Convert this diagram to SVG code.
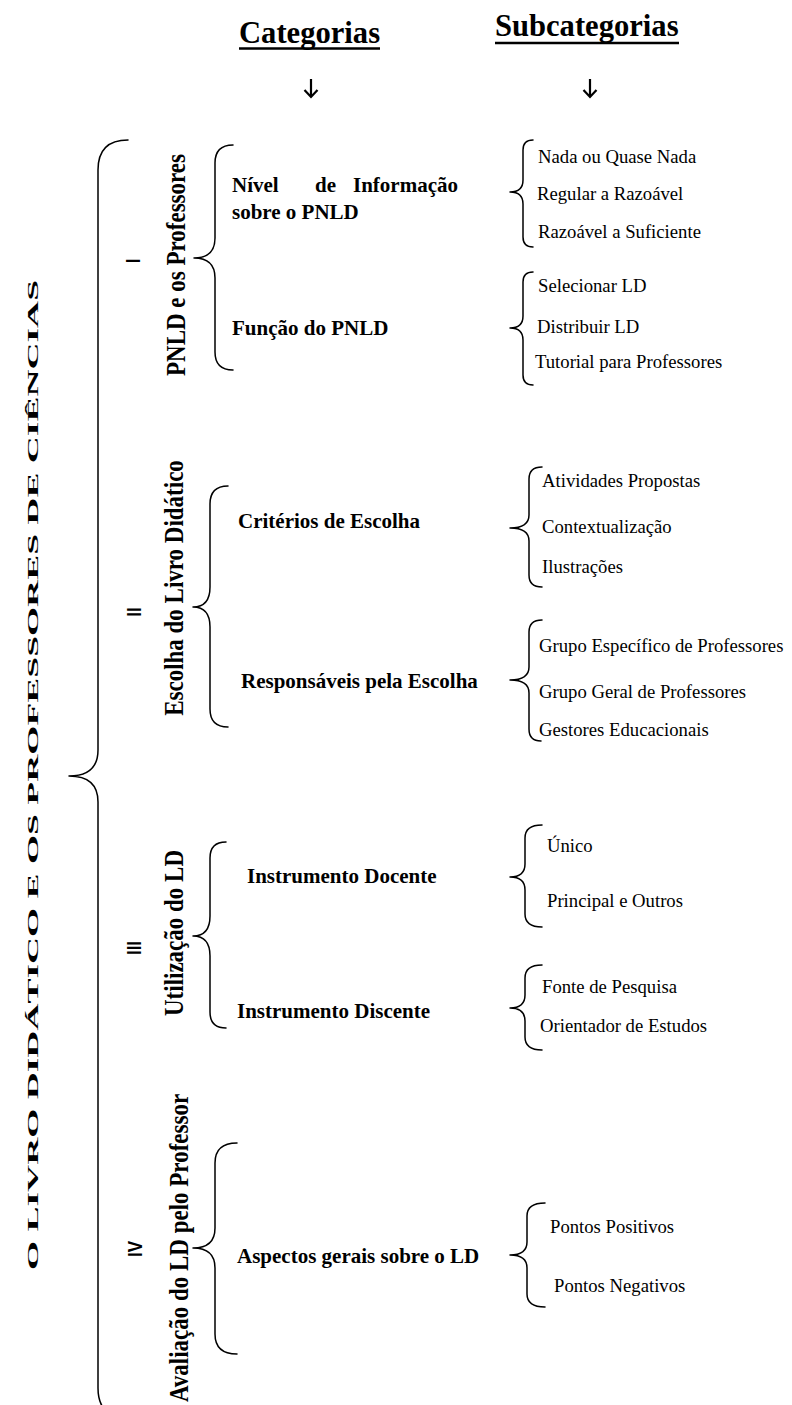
<svg xmlns="http://www.w3.org/2000/svg" width="792" height="1405" viewBox="0 0 792 1405">
<style>
.bg{fill:#fff}
.hd{font-family:"Liberation Serif","Times New Roman",serif;font-weight:bold;font-size:30.6px;fill:#000}
.cat{font-family:"Liberation Serif","Times New Roman",serif;font-weight:bold;font-size:21px;fill:#000}
.sub{font-family:"Liberation Serif","Times New Roman",serif;font-size:18.7px;fill:#000}
.vl{font-family:"Liberation Serif","Times New Roman",serif;font-weight:bold;font-size:23px;fill:#000;text-anchor:middle}
.rn{font-family:"Liberation Sans",Arial,sans-serif;font-weight:bold;font-size:17px;fill:#000;text-anchor:middle}
.br{fill:none;stroke:#000;stroke-width:1.5;stroke-linecap:round;stroke-linejoin:round}
.ar{fill:none;stroke:#000;stroke-width:2.2}
.ul{stroke:#000;stroke-width:2.5}
</style>
<rect class="bg" x="0" y="0" width="792" height="1405"/>

<g id="headers">
  <text class="hd" x="239" y="43">Categorias</text>
  <line class="ul" x1="239" y1="48.5" x2="380" y2="48.5"/>
  <text class="hd" x="495" y="36">Subcategorias</text>
  <line class="ul" x1="495" y1="43" x2="679" y2="43"/>
</g>

<g id="connectors">
  <path class="ar" d="M311,79 L311,97 M304.5,90 L311,97 L317.5,90"/>
  <path class="ar" d="M590,79 L590,97 M583.5,90 L590,97 L596.5,90"/>
  <!-- main brace -->
  <path class="br" d="M128,140 Q98,140 98,170 L98,750 Q98,776 69,776 Q98,776 98,802 L98,1388 Q98,1418 128,1418"/>
  <!-- category braces -->
  <path class="br" d="M233,145 Q215,145 215,163 L215,238 Q215,258 194,258 Q215,258 215,278 L215,352 Q215,370 233,370"/>
  <path class="br" d="M228,486 Q210,486 210,504 L210,587 Q210,607 193,607 Q210,607 210,627 L210,709 Q210,727 228,727"/>
  <path class="br" d="M226,842 Q210,842 210,858 L210,916 Q210,936 193,936 Q210,936 210,956 L210,1012 Q210,1028 226,1028"/>
  <path class="br" d="M237,1143 Q215,1143 215,1163 L215,1228 Q215,1248 193,1248 Q215,1248 215,1268 L215,1334 Q215,1354 237,1354"/>
  <!-- subcategory braces -->
  <path class="br" d="M533,140 Q523,140 523,150 L523,180 Q523,192 510,192 Q523,192 523,204 L523,237 Q523,247 533,247"/>
  <path class="br" d="M533,272 Q523,272 523,282 L523,316 Q523,328 510,328 Q523,328 523,340 L523,375 Q523,385 533,385"/>
  <path class="br" d="M542,467 Q529,467 529,479 L529,515 Q529,528 510,528 Q529,528 529,541 L529,575 Q529,587 542,587"/>
  <path class="br" d="M542,620 Q529,620 529,632 L529,667 Q529,680 510,680 Q529,680 529,693 L529,729 Q529,741 541,741"/>
  <path class="br" d="M542,825 Q525,825 525,838 L525,864 Q525,877 510,877 Q525,877 525,890 L525,914 Q525,927 542,927"/>
  <path class="br" d="M542,965 Q525,965 525,978 L525,995 Q525,1008 510,1008 Q525,1008 525,1021 L525,1037 Q525,1050 542,1050"/>
  <path class="br" d="M545,1203 Q527,1203 527,1216 L527,1242 Q527,1255 510,1255 Q527,1255 527,1268 L527,1294 Q527,1307 545,1307"/>
</g>

<g id="title">
  <text class="vl" font-size="37.5" transform="translate(38,775) rotate(-90) scale(1,0.65)" x="0" y="0" textLength="990" lengthAdjust="spacingAndGlyphs">O LIVRO DIDÁTICO E OS PROFESSORES DE CIÊNCIAS</text>
</g>

<g id="group-I">
  <text class="rn" transform="translate(140,261) rotate(-90) scale(1,1.2)">I</text>
  <text class="vl" transform="translate(185,265) rotate(-90) scale(1,1.2)">PNLD e os Professores</text>
</g>
<g id="cat-nivel">
  <text class="cat" x="232" y="192">Nível</text>
  <text class="cat" x="315" y="192">de</text>
  <text class="cat" x="458" y="192" text-anchor="end">Informação</text>
  <text class="cat" x="232" y="219">sobre o PNLD</text>
</g>
<g id="cat-funcao"><text class="cat" x="232" y="335">Função do PNLD</text></g>
<g id="sub-nivel">
  <text class="sub" x="538" y="163">Nada ou Quase Nada</text>
  <text class="sub" x="537" y="200">Regular a Razoável</text>
  <text class="sub" x="538" y="238">Razoável a Suficiente</text>
</g>
<g id="sub-funcao">
  <text class="sub" x="538" y="292">Selecionar LD</text>
  <text class="sub" x="537" y="333">Distribuir LD</text>
  <text class="sub" x="535" y="368">Tutorial para Professores</text>
</g>

<g id="group-II">
  <text class="rn" transform="translate(141,612) rotate(-90) scale(1,1.2)">II</text>
  <text class="vl" transform="translate(183,588) rotate(-90) scale(1,1.2)">Escolha do Livro Didático</text>
</g>
<g id="cat-criterios"><text class="cat" x="238" y="528">Critérios de Escolha</text></g>
<g id="cat-responsaveis"><text class="cat" x="241" y="688">Responsáveis pela Escolha</text></g>
<g id="sub-criterios">
  <text class="sub" x="542" y="487">Atividades Propostas</text>
  <text class="sub" x="542" y="533">Contextualização</text>
  <text class="sub" x="542" y="573">Ilustrações</text>
</g>
<g id="sub-responsaveis">
  <text class="sub" x="539" y="652">Grupo Específico de Professores</text>
  <text class="sub" x="539" y="698">Grupo Geral de Professores</text>
  <text class="sub" x="539" y="736">Gestores Educacionais</text>
</g>

<g id="group-III">
  <text class="rn" transform="translate(141,948) rotate(-90) scale(1,1.2)">III</text>
  <text class="vl" transform="translate(183,933) rotate(-90) scale(1,1.2)">Utilização do LD</text>
</g>
<g id="cat-docente"><text class="cat" x="247" y="883">Instrumento Docente</text></g>
<g id="cat-discente"><text class="cat" x="237" y="1018">Instrumento Discente</text></g>
<g id="sub-docente">
  <text class="sub" x="547" y="852">Único</text>
  <text class="sub" x="547" y="907">Principal e Outros</text>
</g>
<g id="sub-discente">
  <text class="sub" x="542" y="993">Fonte de Pesquisa</text>
  <text class="sub" x="540" y="1032">Orientador de Estudos</text>
</g>

<g id="group-IV">
  <text class="rn" transform="translate(142,1249) rotate(-90) scale(1,1.2)">IV</text>
  <text class="vl" transform="translate(188,1248) rotate(-90) scale(1,1.2)">Avaliação do LD pelo Professor</text>
</g>
<g id="cat-aspectos"><text class="cat" x="237" y="1263">Aspectos gerais sobre o LD</text></g>
<g id="sub-aspectos">
  <text class="sub" x="550" y="1233">Pontos Positivos</text>
  <text class="sub" x="554" y="1292">Pontos Negativos</text>
</g>
</svg>
